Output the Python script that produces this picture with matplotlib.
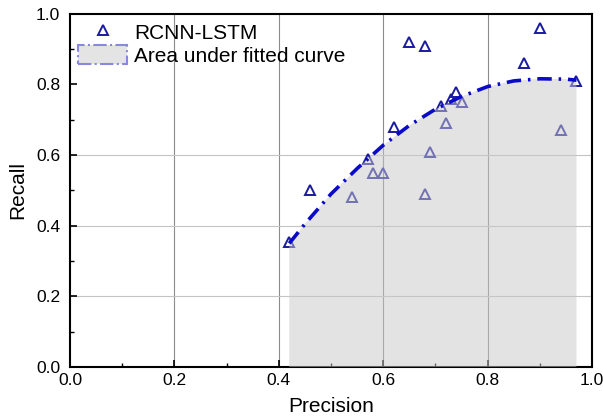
import matplotlib
matplotlib.use("Agg")
import matplotlib.pyplot as plt
from matplotlib.lines import Line2D
from matplotlib.patches import Patch

plt.rcParams['font.family'] = ['Liberation Sans', 'DejaVu Sans']

# Scatter data
precision = [0.42, 0.46, 0.54, 0.57, 0.58, 0.60, 0.62, 0.65, 0.68, 0.68,
             0.69, 0.71, 0.72, 0.73, 0.74, 0.75, 0.87, 0.90, 0.94, 0.97]
recall = [0.355, 0.50, 0.48, 0.59, 0.55, 0.55, 0.68, 0.92, 0.91, 0.49,
          0.61, 0.74, 0.69, 0.76, 0.78, 0.75, 0.86, 0.96, 0.67, 0.81]

# Fitted curve samples
curve_x = [0.42, 0.45, 0.50, 0.55, 0.60, 0.65, 0.70, 0.75, 0.80, 0.85, 0.90, 0.95, 0.97]
curve_y = [0.35, 0.405, 0.49, 0.562, 0.628, 0.684, 0.730, 0.766, 0.794, 0.810, 0.816, 0.815, 0.812]

x_ticks = [0.0, 0.2, 0.4, 0.6, 0.8, 1.0]
y_ticks = [0.0, 0.2, 0.4, 0.6, 0.8, 1.0]
y_grid = [0.2, 0.4, 0.6]
x_grid = [0.2, 0.4, 0.6, 0.8]

fig = plt.figure(figsize=(6.03, 4.18), dpi=100)
ax = fig.add_axes([0.116, 0.122, 0.866, 0.845])

for gx in x_grid:
    ax.axvline(gx, color='#8c8c8c', lw=0.8, zorder=0)
for gy in y_grid:
    ax.axhline(gy, color='#c4c4c4', lw=0.8, zorder=0)

marker_color = '#1a1a9e'
ax.plot(precision, recall, linestyle='none', marker='^', markersize=7.5,
        markerfacecolor='none', markeredgecolor=marker_color, markeredgewidth=1.4, zorder=2)

ax.fill_between(curve_x, 0, curve_y, facecolor='#c8c8c8', alpha=0.5, linewidth=0, zorder=3)

ax.plot(curve_x, curve_y, color='#0a0ac8', lw=2.6, dashes=(4.0, 1.9, 0.7, 1.9),
        dash_capstyle='butt', zorder=4)

ax.set_xlim(0, 1.0)
ax.set_ylim(0, 1.0)
ax.set_xticks(x_ticks)
ax.set_yticks(y_ticks)
ax.set_xticklabels([f"{v:.1f}" for v in x_ticks])
ax.set_yticklabels([f"{v:.1f}" for v in y_ticks])
ax.set_xticks([0.1, 0.3, 0.5, 0.7, 0.9], minor=True)
ax.set_yticks([0.1, 0.3, 0.5, 0.7, 0.9], minor=True)
ax.tick_params(axis='both', which='major', direction='in', length=5, width=1.2,
               labelsize=12.5, top=False, right=False, colors='black')
ax.tick_params(axis='both', which='minor', direction='in', length=3, width=1.0,
               top=False, right=False)
ax.tick_params(axis='x', pad=4)
ax.tick_params(axis='y', pad=7)

for s in ax.spines.values():
    s.set_linewidth(1.5)
    s.set_color('black')

ax.set_xlabel('Precision', fontsize=15, labelpad=7)
ax.set_ylabel('Recall', fontsize=15, labelpad=6)

h1 = Line2D([], [], linestyle='none', marker='^', markersize=7.5, markerfacecolor='none',
            markeredgecolor=marker_color, markeredgewidth=1.4)
h2 = Patch(facecolor='#e4e4e4', edgecolor='#8888dd', linestyle='-.', linewidth=1.5)
ax.legend([h1, h2], ['RCNN-LSTM', 'Area under fitted curve'], loc='upper left',
          bbox_to_anchor=(0.0, 1.0), frameon=False, fontsize=15, handlelength=2.35,
          handleheight=1.0, handletextpad=0.33, labelspacing=0.12, borderpad=0.0,
          borderaxespad=0.4)

fig.savefig('out.png', dpi=100)
